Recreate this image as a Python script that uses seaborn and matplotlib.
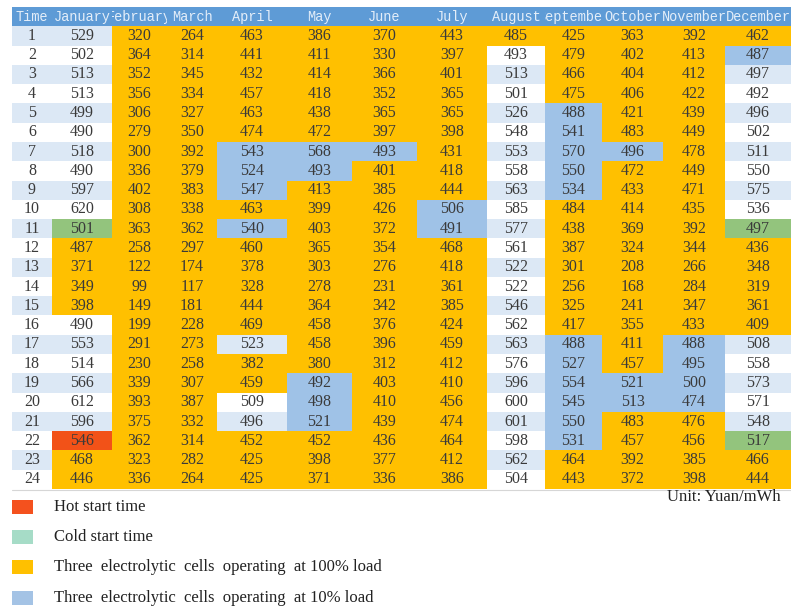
import matplotlib
matplotlib.use("Agg")
import numpy as np
import pandas as pd
import matplotlib.pyplot as plt
from matplotlib.colors import ListedColormap
from matplotlib.patches import Rectangle
import seaborn as sns

# ---------------------------------------------------------------- data
hours = list(range(1, 25))
header = ["Time", "January", "February", "March", "April", "May", "June",
          "July", "August", "September", "October", "November", "December"]

# Hourly electricity price per month (Yuan/mWh)
jan = [529, 502, 513, 513, 499, 490, 518, 490, 597, 620, 501, 487,
       371, 349, 398, 490, 553, 514, 566, 612, 596, 546, 468, 446]
feb = [320, 364, 352, 356, 306, 279, 300, 336, 402, 308, 363, 258,
       122, 99, 149, 199, 291, 230, 339, 393, 375, 362, 323, 336]
mar = [264, 314, 345, 334, 327, 350, 392, 379, 383, 338, 362, 297,
       174, 117, 181, 228, 273, 258, 307, 387, 332, 314, 282, 264]
apr = [463, 441, 432, 457, 463, 474, 543, 524, 547, 463, 540, 460,
       378, 328, 444, 469, 523, 382, 459, 509, 496, 452, 425, 425]
may = [386, 411, 414, 418, 438, 472, 568, 493, 413, 399, 403, 365,
       303, 278, 364, 458, 458, 380, 492, 498, 521, 452, 398, 371]
jun = [370, 330, 366, 352, 365, 397, 493, 401, 385, 426, 372, 354,
       276, 231, 342, 376, 396, 312, 403, 410, 439, 436, 377, 336]
jul = [443, 397, 401, 365, 365, 398, 431, 418, 444, 506, 491, 468,
       418, 361, 385, 424, 459, 412, 410, 456, 474, 464, 412, 386]
aug = [485, 493, 513, 501, 526, 548, 553, 558, 563, 585, 577, 561,
       522, 522, 546, 562, 563, 576, 596, 600, 601, 598, 562, 504]
sep = [425, 479, 466, 475, 488, 541, 570, 550, 534, 484, 438, 387,
       301, 256, 325, 417, 488, 527, 554, 545, 550, 531, 464, 443]
oct_ = [363, 402, 404, 406, 421, 483, 496, 472, 433, 414, 369, 324,
        208, 168, 241, 355, 411, 457, 521, 513, 483, 457, 392, 372]
nov = [392, 413, 412, 422, 439, 449, 478, 449, 471, 435, 392, 344,
       266, 284, 347, 433, 488, 495, 500, 474, 476, 456, 385, 398]
dec = [462, 487, 497, 492, 496, 502, 511, 550, 575, 536, 497, 436,
       348, 319, 361, 409, 508, 558, 573, 571, 548, 517, 466, 444]

# Electrolyser schedule per hour:
# O = idle, H = hot start, C = cold start, F = three cells at 100% load, L = three cells at 10% load
jan_state = "OOOOOOOOOOCFFFFOOOOOOHFF"
feb_state = "FFFFFFFFFFFFFFFFFFFFFFFF"
mar_state = "FFFFFFFFFFFFFFFFFFFFFFFF"
apr_state = "FFFFFFLLLFLFFFFFOFFOOFFF"
may_state = "FFFFFFLLFFFFFFFFFFLLLFFF"
jun_state = "FFFFFFLFFFFFFFFFFFFFFFFF"
jul_state = "FFFFFFFFFLLFFFFFFFFFFFFF"
aug_state = "FOOOOOOOOOOOOOOOOOOOOOOO"
sep_state = "FFFFLLLLLFFFFFFFLLLLLLFF"
oct_state = "FFFFFFLFFFFFFFFFFFLLFFFF"
nov_state = "FFFFFFFFFFFFFFFFLLLLFFFF"
dec_state = "FLOOOOOOOOCFFFFFOOOOOCFF"

legend_labels = ["Hot start time", "Cold start time",
                 "Three  electrolytic  cells  operating  at 100% load",
                 "Three  electrolytic  cells  operating  at 10% load"]

# ---------------------------------------------------------------- styling
W, H = 791, 608
DPI = 100
col_edges = [12, 52, 112, 167, 217, 287, 352, 417, 487, 545, 602, 663, 725, 791]
table_top, table_bottom = 7, 489

c_white = "#FFFFFF"
c_stripe = "#DCE8F5"
c_hot = "#F25218"
c_cold = "#93C47D"
c_full = "#FFC000"
c_low = "#9FC2E7"
c_head = "#5E9BD6"
palette = [c_white, c_stripe, c_hot, c_cold, c_full, c_low, c_head]
cmap = ListedColormap(palette)
code_of = {"H": 2, "C": 3, "F": 4, "L": 5}

sns.set_theme(style="white")
plt.rcParams["font.family"] = ["Liberation Serif", "DejaVu Serif"]

fig = plt.figure(figsize=(W / DPI, H / DPI), dpi=DPI)
fig.patch.set_facecolor("white")

months = [jan, feb, mar, apr, may, jun, jul, aug, sep, oct_, nov, dec]
states = [jan_state, feb_state, mar_state, apr_state, may_state, jun_state,
          jul_state, aug_state, sep_state, oct_state, nov_state, dec_state]


def stripe(hour):
    return 1 if hour % 2 == 1 else 0


columns = [(hours, None)] + list(zip(months, states))

for j, (vals, st) in enumerate(columns):
    codes = [6]
    for k, h in enumerate(hours):
        if st is None or st[k] == "O":
            codes.append(stripe(h))
        else:
            codes.append(code_of[st[k]])
    labels = [header[j]] + [str(v) for v in vals]
    df = pd.DataFrame({header[j]: codes})
    ann = np.array(labels, dtype=object).reshape(-1, 1)

    x0, x1 = col_edges[j], col_edges[j + 1]
    ax = fig.add_axes([x0 / W, 1 - table_bottom / H,
                       (x1 - x0) / W, (table_bottom - table_top) / H])
    sns.heatmap(df, ax=ax, cmap=cmap, vmin=-0.5, vmax=6.5, cbar=False,
                annot=ann, fmt="", linewidths=0, xticklabels=False,
                yticklabels=False)
    for i, t in enumerate(ax.texts):
        t.set_clip_on(True)
        if i == 0:
            t.set_family(["Liberation Mono", "DejaVu Sans Mono"])
            t.set_fontsize(9.8)
            t.set_color("#E4EEF9")
        else:
            t.set_family(["Liberation Serif", "DejaVu Serif"])
            t.set_fontsize(11.5)
            t.set_color("#3A3A3A")
    ax.set_xlabel("")
    ax.set_ylabel("")
    for s in ax.spines.values():
        s.set_visible(False)

# thin rule under the table
fig.add_artist(plt.Line2D([12 / W, 1], [1 - 489.5 / H] * 2,
                          color="#D6D6D6", lw=0.8))

# unit note
fig.text(781 / W, 1 - 497 / H, "Unit: Yuan/mWh", ha="right", va="center",
         fontsize=12, color="#222222")

# legend
legend_colors = ["#F4511E", "#A6DCC7", "#FFC000", "#A4C3E5"]
legend_y = [507, 537, 567, 598]
for lab, col, y in zip(legend_labels, legend_colors, legend_y):
    fig.add_artist(Rectangle((12 / W, 1 - (y + 7) / H), 21 / W, 14 / H,
                             transform=fig.transFigure, facecolor=col,
                             edgecolor="none"))
    fig.text(54 / W, 1 - y / H, lab, ha="left", va="center",
             fontsize=12, color="#222222")

fig.savefig("out.png", dpi=DPI)
